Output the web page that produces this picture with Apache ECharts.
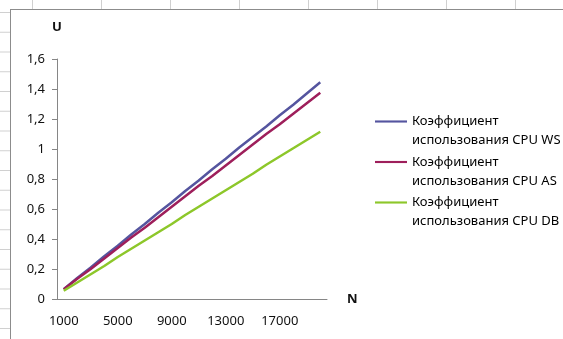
<!DOCTYPE html>
<html>
<head>
<meta charset="utf-8">
<script src="https://cdn.jsdelivr.net/npm/echarts@6/dist/echarts.min.js"></script>
<style>
html, body {
  margin: 0;
  width: 563px;
  height: 339px;
  overflow: hidden;
  background-color: #fff;
  background-image:
    linear-gradient(to right, #d0d0d0 1px, transparent 1px),
    linear-gradient(to bottom, #d0d0d0 1px, transparent 1px);
  background-size: 69px 100%, 100% 19.75px;
  background-position: 32px 0, 0 12px;
}
#chart {
  position: absolute;
  left: 10px;
  top: 9px;
  width: 553px;
  height: 330px;
  background: #fff;
  border-left: 1px solid #8c8c8c;
  border-top: 1px solid #8c8c8c;
}
</style>
</head>
<body>
<div id="chart"></div>
<script>
// N values (x axis categories)
const categories = ['1000', '2000', '3000', '4000', '5000', '6000', '7000', '8000', '9000', '10000',
  '11000', '12000', '13000', '14000', '15000', '16000', '17000', '18000', '19000', '20000']
// utilisation per server
const cpuWS = [0.065, 0.14, 0.21, 0.285, 0.355, 0.43, 0.5, 0.575, 0.645, 0.72,
  0.79, 0.865, 0.935, 1.01, 1.08, 1.15, 1.225, 1.295, 1.37, 1.445]
const cpuAS = [0.065, 0.135, 0.2, 0.27, 0.34, 0.41, 0.475, 0.545, 0.615, 0.685,
  0.755, 0.82, 0.89, 0.96, 1.03, 1.1, 1.165, 1.235, 1.305, 1.375]
const cpuDB = [0.055, 0.11, 0.165, 0.22, 0.28, 0.335, 0.39, 0.445, 0.5, 0.56,
  0.615, 0.67, 0.725, 0.78, 0.835, 0.895, 0.95, 1.005, 1.06, 1.115]
const seriesNames = ['Коэффициент использования CPU WS', 'Коэффициент использования CPU AS', 'Коэффициент использования CPU DB']

const chart = echarts.init(document.getElementById('chart'))
const axisColor = '#868686'
const font = '"Noto Sans", sans-serif'

const mkSeries = (name, data) => ({
  name,
  type: 'line',
  data,
  symbol: 'none',
  lineStyle: { width: 2.5 }
})

chart.setOption({
  animation: false,
  color: ['#55559f', '#9e1f5b', '#8dc72a'],
  textStyle: { fontFamily: font },
  grid: { left: 46, top: 49, width: 270, height: 240 },
  legend: {
    orient: 'vertical',
    left: 359,
    top: 78,
    itemWidth: 32,
    itemHeight: 10,
    itemGap: -16.5,
    selectedMode: false,
    icon: 'path://M0 0H30V2H0Z',
    // leading blank line keeps the marker level with the first text line
    formatter: (name) => '\n' + name.replace(' использования', '\nиспользования'),
    textStyle: { fontSize: 13, lineHeight: 19, color: '#000', fontFamily: font },
    data: seriesNames
  },
  xAxis: {
    type: 'category',
    data: categories,
    name: 'N',
    nameGap: 20,
    nameTextStyle: { fontWeight: 'bold', fontSize: 13, color: '#111', padding: [6, 0, 0, 0] },
    axisLine: { lineStyle: { color: axisColor } },
    axisTick: { interval: 0, length: 5, lineStyle: { color: axisColor } },
    axisLabel: { interval: 3, margin: 16, fontSize: 13, color: '#111' },
    splitLine: { show: false }
  },
  yAxis: {
    type: 'value',
    min: 0,
    max: 1.6,
    interval: 0.2,
    name: 'U',
    nameGap: 25,
    nameTextStyle: { fontWeight: 'bold', fontSize: 13, color: '#111' },
    axisLine: { show: true, lineStyle: { color: axisColor } },
    axisTick: { show: true, length: 5, lineStyle: { color: axisColor } },
    axisLabel: {
      margin: 12,
      fontSize: 13,
      color: '#111',
      formatter: (v) => String(Math.round(v * 10) / 10).replace('.', ',')
    },
    splitLine: { show: false }
  },
  series: [
    mkSeries(seriesNames[0], cpuWS),
    mkSeries(seriesNames[1], cpuAS),
    mkSeries(seriesNames[2], cpuDB)
  ]
})
</script>
</body>
</html>
